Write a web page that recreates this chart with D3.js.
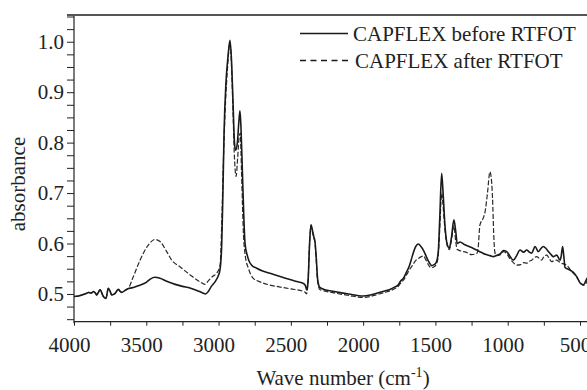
<!DOCTYPE html>
<html>
<head>
<meta charset="utf-8">
<script src="https://cdn.jsdelivr.net/npm/d3@7"></script>
<style>
  body { margin: 0; background: #fff; }
  svg text { font-family: "Liberation Serif", "Times New Roman", serif; fill: #222; }
</style>
</head>
<body>
<svg id="chart" width="587" height="390"></svg>
<script>
// spectra: [wave number, absorbance]
const before = [
  [4000,0.495],[3968,0.496],[3936,0.499],[3915,0.501],[3901,0.503],[3880,0.502],[3866,0.505],[3850,0.501],
  [3843,0.498],[3820,0.508],[3797,0.495],[3779,0.491],[3763,0.511],[3750,0.505],[3739,0.498],[3716,0.501],
  [3694,0.509],[3680,0.505],[3670,0.503],[3647,0.507],[3624,0.511],
  [3600,0.512],[3550,0.517],[3500,0.523],[3470,0.530],[3440,0.533],[3405,0.531],[3359,0.525],[3300,0.519],
  [3250,0.515],[3198,0.512],[3150,0.507],[3110,0.502],[3090,0.500],[3071,0.505],[3050,0.515],[3020,0.526],
  [3002,0.536],[2990,0.548],[2978,0.600],[2970,0.700],[2962,0.820],[2949,0.918],[2935,0.970],[2921,1.003],
  [2910,0.960],[2900,0.880],[2890,0.800],[2882,0.785],[2870,0.800],[2860,0.840],[2852,0.863],[2845,0.830],
  [2835,0.740],[2825,0.650],[2817,0.600],[2800,0.575],[2790,0.566],[2771,0.557],[2736,0.551],[2700,0.546],
  [2644,0.541],[2580,0.535],[2500,0.528],[2450,0.524],[2414,0.521],[2400,0.517],[2390,0.508],[2380,0.530],
  [2372,0.590],[2361,0.637],[2350,0.625],[2340,0.612],[2333,0.604],[2325,0.575],[2315,0.530],[2300,0.513],
  [2270,0.509],[2200,0.505],[2100,0.500],[2000,0.496],[1950,0.498],[1900,0.502],[1850,0.506],[1815,0.509],
  [1780,0.514],[1757,0.518],[1745,0.524],[1720,0.532],[1699,0.544],[1680,0.556],[1660,0.575],[1640,0.592],
  [1618,0.599],[1600,0.594],[1580,0.585],[1560,0.572],[1540,0.561],[1525,0.556],[1510,0.558],[1495,0.562],
  [1480,0.585],[1470,0.650],[1457,0.739],[1447,0.700],[1435,0.640],[1420,0.600],[1404,0.591],[1390,0.610],
  [1372,0.647],[1360,0.625],[1349,0.600],[1330,0.603],[1300,0.598],[1250,0.592],[1215,0.587],[1180,0.582],
  [1150,0.578],[1123,0.576],[1100,0.574],[1080,0.576],[1050,0.580],[1030,0.586],[1007,0.584],[985,0.575],
  [961,0.567],[940,0.575],[915,0.587],[890,0.583],[869,0.587],[850,0.583],[834,0.581],[811,0.594],
  [788,0.584],[770,0.590],[754,0.594],[735,0.590],[719,0.584],[700,0.578],[685,0.574],[661,0.577],
  [638,0.567],[630,0.575],[620,0.594],[612,0.575],[604,0.553],[575,0.548],[546,0.543],[520,0.533],
  [500,0.522],[477,0.518],[460,0.526],[450,0.532]
];

const after = [
  [4000,0.495],[3968,0.496],[3936,0.499],[3915,0.501],[3901,0.503],[3880,0.502],[3866,0.505],[3850,0.501],
  [3843,0.498],[3820,0.508],[3797,0.495],[3779,0.491],[3763,0.511],[3750,0.505],[3739,0.498],[3716,0.501],
  [3694,0.509],[3680,0.505],[3670,0.503],[3647,0.507],[3624,0.511],
  [3590,0.534],[3543,0.567],[3486,0.597],[3440,0.608],[3405,0.604],[3359,0.584],[3324,0.567],[3267,0.554],
  [3198,0.538],[3128,0.524],[3094,0.519],[3071,0.526],[3040,0.535],[3013,0.541],[2990,0.556],[2978,0.640],
  [2968,0.750],[2955,0.860],[2940,0.940],[2921,0.998],[2910,0.950],[2900,0.860],[2890,0.770],[2879,0.733],
  [2868,0.770],[2858,0.810],[2850,0.819],[2842,0.750],[2835,0.680],[2829,0.627],[2815,0.575],[2794,0.551],
  [2760,0.531],[2713,0.524],[2650,0.518],[2580,0.514],[2500,0.510],[2414,0.505],[2400,0.503],[2392,0.500],
  [2380,0.530],[2372,0.590],[2361,0.635],[2350,0.622],[2340,0.610],[2333,0.600],[2325,0.570],[2315,0.525],
  [2300,0.509],[2270,0.506],[2200,0.502],[2100,0.497],[2000,0.493],[1950,0.495],[1900,0.499],[1850,0.503],
  [1815,0.506],[1780,0.511],[1757,0.515],[1745,0.520],[1720,0.528],[1699,0.538],[1680,0.548],[1660,0.556],
  [1640,0.565],[1610,0.572],[1583,0.575],[1565,0.567],[1545,0.556],[1530,0.552],[1515,0.553],[1500,0.556],
  [1482,0.572],[1470,0.630],[1457,0.700],[1447,0.675],[1435,0.630],[1420,0.598],[1404,0.588],[1390,0.605],
  [1372,0.635],[1360,0.605],[1349,0.588],[1320,0.585],[1290,0.583],[1250,0.578],[1215,0.580],[1205,0.590],
  [1192,0.637],[1170,0.650],[1157,0.662],[1140,0.700],[1123,0.742],[1112,0.725],[1105,0.690],[1097,0.620],
  [1090,0.585],[1080,0.576],[1050,0.578],[1030,0.584],[1007,0.580],[985,0.570],[961,0.562],[938,0.557],
  [910,0.558],[890,0.562],[869,0.561],[850,0.565],[834,0.567],[815,0.572],[799,0.574],[780,0.570],
  [765,0.567],[748,0.575],[730,0.577],[712,0.570],[696,0.564],[680,0.566],[661,0.567],[645,0.564],
  [627,0.561],[592,0.557],[560,0.545],[523,0.534],[493,0.520],[470,0.517],[450,0.527]
];

const xTicks = [4000, 3500, 3000, 2500, 2000, 1500, 1000, 500];
const yTicks = [0.5, 0.6, 0.7, 0.8, 0.9, 1.0];
const legendNames = ['CAPFLEX before RTFOT', 'CAPFLEX after RTFOT'];

const svg = d3.select('#chart');
const m = {left: 74, top: 15, bottom: 321.7, right: 587};

const x = d3.scaleLinear().domain([4000, 500]).range([m.left, 580]);
const y = d3.scaleLinear().domain([0.445, 1.053]).range([m.bottom, m.top]);

svg.append('rect').attr('width', 587).attr('height', 390).attr('fill', '#fff');

svg.append('defs').append('clipPath').attr('id', 'plot')
  .append('rect').attr('x', m.left).attr('y', m.top).attr('width', m.right - m.left).attr('height', m.bottom - m.top);

// x axis
const xAxis = svg.append('g')
  .attr('transform', `translate(0,${m.bottom})`)
  .call(d3.axisBottom(x).tickValues(d3.range(4000, 400, -250)).tickSize(4).tickFormat(''));
xAxis.select('.domain').remove();
xAxis.selectAll('line').attr('stroke', '#222');
svg.append('line').attr('x1', m.left).attr('x2', m.right).attr('y1', m.bottom).attr('y2', m.bottom)
  .attr('stroke', '#222').attr('stroke-width', 1.2);

svg.append('g').selectAll('text').data(xTicks).enter().append('text')
  .attr('x', d => x(d) - 4.5).attr('y', 352)
  .attr('text-anchor', 'middle').attr('font-size', 21)
  .text(d => d);

// y axis
const yAxis = svg.append('g')
  .attr('transform', `translate(${m.left},0)`)
  .call(d3.axisLeft(y).tickValues(d3.range(0.45, 1.051, 0.025)).tickSize(7).tickFormat(''));
yAxis.select('.domain').remove();
yAxis.selectAll('line').attr('stroke', '#222');
svg.append('line').attr('x1', m.left).attr('x2', m.left).attr('y1', m.top).attr('y2', m.bottom + 1.5)
  .attr('stroke', '#222').attr('stroke-width', 1.2);

svg.append('g').selectAll('text').data(yTicks).enter().append('text')
  .attr('x', 64).attr('y', d => y(d) + 7)
  .attr('text-anchor', 'end').attr('font-size', 21)
  .text(d => d.toFixed(1));

// top frame
svg.append('line').attr('x1', 67).attr('x2', m.right).attr('y1', m.top).attr('y2', m.top)
  .attr('stroke', '#555').attr('stroke-width', 2);

// titles
const xt = svg.append('text').attr('x', 343).attr('y', 385).attr('text-anchor', 'middle').attr('font-size', 21);
xt.append('tspan').text('Wave number (cm');
xt.append('tspan').attr('dy', -8).attr('font-size', 14).text('-1');
xt.append('tspan').attr('dy', 8).text(')');

svg.append('text')
  .attr('transform', 'translate(25,184) rotate(-90)')
  .attr('text-anchor', 'middle').attr('font-size', 21)
  .text('absorbance');

// spectra
const line = d3.line().x(d => x(d[0])).y(d => y(d[1])).curve(d3.curveMonotoneX);
const plot = svg.append('g').attr('clip-path', 'url(#plot)');

plot.append('path').datum(after).attr('d', line)
  .attr('fill', 'none').attr('stroke', '#2a2a2a').attr('stroke-width', 1.2).attr('stroke-dasharray', '5,2');
plot.append('path').datum(before).attr('d', line)
  .attr('fill', 'none').attr('stroke', '#1a1a1a').attr('stroke-width', 1.6);

// legend
const lg = svg.append('g');
lg.append('line').attr('x1', 300).attr('x2', 348).attr('y1', 33.5).attr('y2', 33.5)
  .attr('stroke', '#1a1a1a').attr('stroke-width', 1.4);
lg.append('line').attr('x1', 300).attr('x2', 348).attr('y1', 60.5).attr('y2', 60.5)
  .attr('stroke', '#1a1a1a').attr('stroke-width', 1.4).attr('stroke-dasharray', '6,4.5');
lg.selectAll('text').data(legendNames).enter().append('text')
  .attr('x', (d, i) => i ? 355 : 353).attr('y', (d, i) => 40.5 + i * 27)
  .attr('font-size', 21).text(d => d);
</script>
</body>
</html>
